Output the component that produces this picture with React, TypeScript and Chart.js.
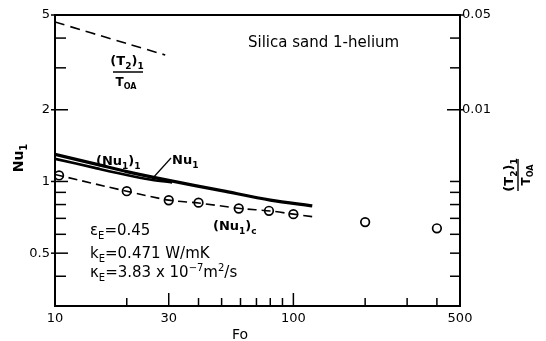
import React, { useEffect, useRef } from "react";
import { Chart, registerables } from "chart.js";

Chart.register(...registerables);

const FONT = "'DejaVu Sans', sans-serif";

// (Nu1)1 thick solid curve
const NU_I_FO = [10, 15, 20, 30, 50, 80, 120];
const NU_I_VAL = [1.3, 1.18, 1.1, 1.01, 0.915, 0.835, 0.79];
// Nu1 solid curve
const NU1_FO = [10, 15, 20, 25, 31];
const NU1_VAL = [1.245, 1.135, 1.065, 1.02, 0.99];
// (Nu1)c dashed curve
const NUC_LINE_FO = [10, 20, 30, 40, 60, 80, 100, 120];
const NUC_LINE_VAL = [1.07, 0.91, 0.835, 0.812, 0.77, 0.752, 0.729, 0.712];
// (Nu1)c open circles
const NUC_FO = [10.4, 20, 30, 40, 59, 79, 100, 200, 400];
const NUC_VAL = [1.06, 0.91, 0.834, 0.815, 0.77, 0.753, 0.729, 0.675, 0.636];
// (T2)1 / T0A dashed curve (right axis)
const T2_FO = [10, 20, 29];
const T2_VAL = [0.0444, 0.0308, 0.0254];

// axes
const X_TICKS = [10, 20, 30, 40, 50, 60, 70, 80, 90, 100, 200, 300, 400, 500];
const X_LABELS = [10, 30, 100, 500];
const Y_TICKS = [5, 4, 3, 2, 1, 0.9, 0.8, 0.7, 0.6, 0.5, 0.4, 0.3];
const Y_LABELS = [5, 2, 1, 0.5];
const Y2_LABELS = [0.05, 0.01];

type Run = [string, number]; // 0 normal, 1 subscript, 2 superscript

function rich(
  ctx: CanvasRenderingContext2D,
  runs: Run[],
  x: number,
  y: number,
  size: number,
  align: "left" | "center" = "left",
  weight = "normal"
) {
  const fontFor = (k: number) => `${weight} ${k ? Math.round(size * 0.68) : size}px ${FONT}`;
  let total = 0;
  runs.forEach(([t, k]) => {
    ctx.font = fontFor(k);
    total += ctx.measureText(t).width;
  });
  let cx = align === "center" ? x - total / 2 : x;
  ctx.textAlign = "left";
  ctx.textBaseline = "alphabetic";
  runs.forEach(([t, k]) => {
    ctx.font = fontFor(k);
    const dy = k === 1 ? size * 0.28 : k === 2 ? -size * 0.42 : 0;
    ctx.fillText(t, cx, y + dy);
    cx += ctx.measureText(t).width;
  });
}

const decor = {
  id: "decor",
  afterDraw(chart: any) {
    const { ctx, chartArea: a, scales } = chart;
    const xs = scales.x;
    const ys = scales.y;
    const y2 = scales.y2;
    ctx.save();
    ctx.strokeStyle = "#000";
    ctx.fillStyle = "#000";
    ctx.lineWidth = 2;
    ctx.strokeRect(a.left, a.top, a.right - a.left, a.bottom - a.top);

    // inward tick marks
    ctx.lineWidth = 1.5;
    const rightMajor = Y2_LABELS.map((v) => y2.getPixelForValue(v));
    Y_TICKS.forEach((v) => {
      const py = ys.getPixelForValue(v);
      const major = Y_LABELS.includes(v);
      ctx.beginPath();
      ctx.moveTo(a.left - (major ? 4 : 0), py);
      ctx.lineTo(a.left + (major ? 13 : 11), py);
      ctx.stroke();
      const rMajor = rightMajor.some((p: number) => Math.abs(p - py) < 3);
      ctx.beginPath();
      ctx.moveTo(a.right + (rMajor ? 3 : 0), py);
      ctx.lineTo(a.right - (rMajor ? 13 : 10), py);
      ctx.stroke();
    });
    X_TICKS.forEach((v) => {
      const px = xs.getPixelForValue(v);
      const major = X_LABELS.includes(v);
      ctx.beginPath();
      ctx.moveTo(px, a.bottom);
      ctx.lineTo(px, a.bottom - (major ? 13 : 8));
      ctx.stroke();
    });

    // title
    rich(ctx, [["Silica sand 1-helium", 0]], 248, 47, 15);

    // (T2)1 / T0A label near dashed curve
    rich(ctx, [["(T", 0], ["2", 1], [")", 0], ["1", 1]], 127, 65, 13, "center", "bold");
    ctx.lineWidth = 1.5;
    ctx.beginPath();
    ctx.moveTo(113, 72);
    ctx.lineTo(143, 72);
    ctx.stroke();
    rich(ctx, [["T", 0], ["OA", 1]], 126, 86, 12, "center", "bold");

    // curve labels
    rich(ctx, [["(Nu", 0], ["1", 1], [")", 0], ["1", 1]], 96, 165, 13, "left", "bold");
    rich(ctx, [["Nu", 0], ["1", 1]], 172, 164, 13, "left", "bold");
    ctx.lineWidth = 1.2;
    ctx.beginPath();
    ctx.moveTo(171, 158);
    ctx.lineTo(152, 179);
    ctx.stroke();
    rich(ctx, [["(Nu", 0], ["1", 1], [")", 0], ["c", 1]], 213, 230, 13, "left", "bold");

    // parameters
    rich(ctx, [["ε", 0], ["E", 1], ["=0.45", 0]], 90, 235, 15);
    rich(ctx, [["k", 0], ["E", 1], ["=0.471 W/mK", 0]], 90, 258, 15);
    rich(
      ctx,
      [["κ", 0], ["E", 1], ["=3.83 x 10", 0], ["−7", 2], ["m", 0], ["2", 2], ["/s", 0]],
      90,
      277,
      15
    );

    // left axis title
    ctx.save();
    ctx.translate(18, 158);
    ctx.rotate(-Math.PI / 2);
    rich(ctx, [["Nu", 0], ["1", 1]], 0, 5, 14, "center", "bold");
    ctx.restore();

    // right axis title
    ctx.save();
    ctx.translate(517, 175);
    ctx.rotate(-Math.PI / 2);
    rich(ctx, [["(T", 0], ["2", 1], [")", 0], ["1", 1]], 0, -4, 13, "center", "bold");
    ctx.lineWidth = 1.4;
    ctx.beginPath();
    ctx.moveTo(-16, 1);
    ctx.lineTo(16, 1);
    ctx.stroke();
    rich(ctx, [["T", 0], ["OA", 1]], 0, 13, 12, "center", "bold");
    ctx.restore();

    // x axis title
    rich(ctx, [["Fo", 0]], 240, 339, 14, "center");
    ctx.restore();
  },
};

const pts = (xs: number[], ys: number[]) => xs.map((x, i) => ({ x, y: ys[i] }));

export default function App() {
  const ref = useRef<HTMLCanvasElement | null>(null);
  useEffect(() => {
    if (!ref.current) return;
    const tickFont = { family: FONT, size: 13 };
    const chart = new Chart(ref.current, {
      type: "scatter",
      data: {
        datasets: [
          {
            data: pts(NU_I_FO, NU_I_VAL),
            showLine: true,
            borderColor: "#000",
            borderWidth: 3.2,
            pointRadius: 0,
            tension: 0.3,
            yAxisID: "y",
          },
          {
            data: pts(NU1_FO, NU1_VAL),
            showLine: true,
            borderColor: "#000",
            borderWidth: 2.6,
            pointRadius: 0,
            tension: 0.3,
            yAxisID: "y",
          },
          {
            data: pts(NUC_LINE_FO, NUC_LINE_VAL),
            showLine: true,
            borderColor: "#000",
            borderWidth: 1.6,
            borderDash: [9, 5],
            pointRadius: 0,
            tension: 0.3,
            yAxisID: "y",
          },
          {
            data: pts(NUC_FO, NUC_VAL),
            showLine: false,
            pointRadius: 4.3,
            pointBackgroundColor: "#fff",
            pointBorderColor: "#000",
            pointBorderWidth: 1.7,
            yAxisID: "y",
          },
          {
            data: pts(T2_FO, T2_VAL),
            showLine: true,
            borderColor: "#000",
            borderWidth: 1.6,
            borderDash: [10, 6],
            pointRadius: 0,
            tension: 0.2,
            yAxisID: "y2",
          },
        ],
      },
      options: {
        responsive: false,
        animation: false,
        layout: { padding: { top: 15, left: 0, right: 0, bottom: 0 } },
        plugins: { legend: { display: false }, tooltip: { enabled: false } },
        scales: {
          x: {
            type: "logarithmic",
            min: 10,
            max: 500,
            afterBuildTicks: (s: any) => {
              s.ticks = X_TICKS.map((v) => ({ value: v }));
            },
            afterFit: (s: any) => {
              s.height = 35;
            },
            grid: { display: false, drawTicks: false },
            border: { display: false },
            ticks: {
              autoSkip: false,
              maxRotation: 0,
              padding: 5,
              font: tickFont,
              color: "#000",
              callback: (v: any) => (X_LABELS.includes(Number(v)) ? String(v) : ""),
            },
          },
          y: {
            type: "logarithmic",
            position: "left",
            min: 0.3,
            max: 5,
            afterBuildTicks: (s: any) => {
              s.ticks = Y_TICKS.map((v) => ({ value: v }));
            },
            afterFit: (s: any) => {
              s.width = 55;
            },
            grid: { display: false, drawTicks: false },
            border: { display: false },
            ticks: {
              autoSkip: false,
              padding: 5,
              font: tickFont,
              color: "#000",
              callback: (v: any) => (Y_LABELS.includes(Number(v)) ? String(v) : ""),
            },
          },
          y2: {
            type: "logarithmic",
            position: "right",
            min: 0.00036,
            max: 0.05,
            afterBuildTicks: (s: any) => {
              s.ticks = Y2_LABELS.map((v) => ({ value: v }));
            },
            afterFit: (s: any) => {
              s.width = 86;
            },
            grid: { display: false, drawTicks: false },
            border: { display: false },
            ticks: {
              autoSkip: false,
              padding: 2,
              font: tickFont,
              color: "#000",
              callback: (v: any) => String(v),
            },
          },
        },
      },
      plugins: [decor],
    } as any);
    return () => chart.destroy();
  }, []);
  return (
    <div style={{ position: "fixed", left: 0, top: 0, width: 546, height: 341, background: "#fff" }}>
      <canvas ref={ref} width={546} height={341} style={{ display: "block" }} />
    </div>
  );
}
